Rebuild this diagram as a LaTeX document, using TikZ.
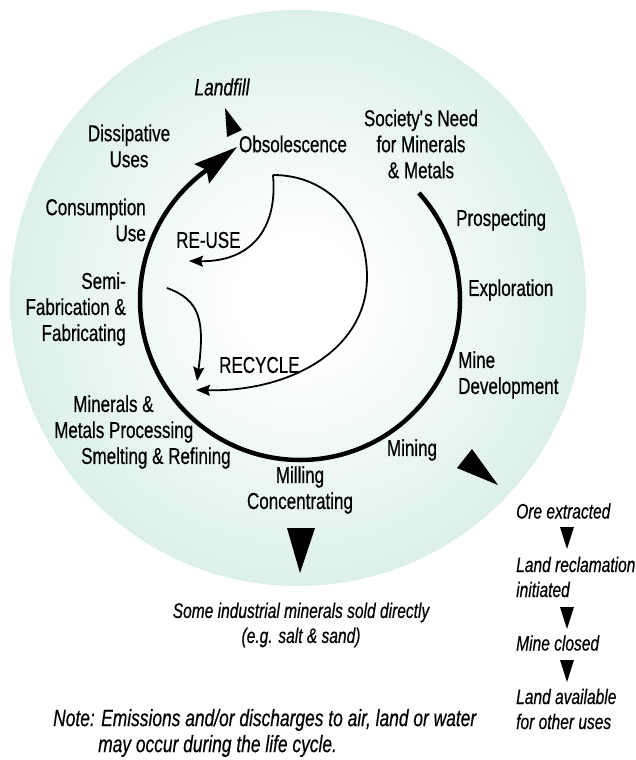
\documentclass[tikz,border=0pt]{standalone}
\usepackage{fontspec}
\setmainfont{Liberation Sans}[FakeStretch=0.74, FakeBold=0.5]
\usepackage{tikz}
\usetikzlibrary{arrows.meta,positioning,calc}

\definecolor{mint}{RGB}{176,222,205}
\pgfdeclareradialshading{mintdisc}{\pgfpoint{0bp}{0bp}}{color(0bp)=(white); color(5bp)=(white); color(50bp)=(mint)}

\begin{document}
\begin{tikzpicture}[x=1pt, y=-1pt, >={Stealth[length=14pt,width=11pt,inset=2pt]},
    lbl/.style={font=\fontsize{23}{26}\selectfont, inner sep=1pt},
    itl/.style={font=\fontsize{21}{25}\selectfont\itshape, inner sep=1pt},
    bigarc/.style={line width=4.5pt},
    thinarc/.style={line width=1.8pt}]
    \useasboundingbox (0,0) rectangle (636,760);

    % Background disc
    \shade[shading=mintdisc] (298,298) circle (288);

    % Stages round the cycle
    \node[lbl] (obs) at (293,144) {Obsolescence};
    \node[itl, font=\fontsize{23.5}{26}\selectfont\itshape] (landfill) at (222,87) {Landfill};
    \node[lbl, align=center] (need) at (421,144) {Society\textquotesingle s Need\\for Minerals\\\& Metals};
    \node[lbl, anchor=west] (prosp) at (455,220) {Prospecting};
    \node[lbl, anchor=west] (expl) at (467,290) {Exploration};
    \node[lbl, anchor=west, align=left] (dev) at (457,375) {Mine\\Development};
    \node[lbl] (mining) at (412,450) {Mining};
    \node[lbl, align=center] (mill) at (300,490) {Milling\\Concentrating};
    \node[lbl, anchor=west, align=left] (proc) at (53,432) {\hspace*{19pt}Minerals \&\\Metals Processing\\\hspace*{27pt}Smelting \& Refining};
    \node[lbl, anchor=east, align=right] (semi) at (127,309) {Semi-\\Fabrication \&\\Fabricating};
    \node[lbl, anchor=east, align=right] (cons) at (147,220) {Consumption\\Use};
    \node[lbl, align=center] (diss) at (129,146) {Dissipative\\Uses};
    \node[lbl, anchor=west] (reuse) at (175,240) {RE-USE};
    \node[lbl, anchor=west] (recycle) at (218,365) {RECYCLE};

    % Main cycle
    \coordinate (ring) at (300,300);
    \coordinate (obsin) at (237,147);
    \draw[bigarc, -{Stealth[length=44pt,width=24pt,inset=6pt]}]
        ($(ring)+(-42:160)$) arc[start angle=-42, end angle=232, radius=160] -- (obsin);

    % Re-use and recycle loops
    \coordinate (split) at (273,175);
    \coordinate (reusein) at (189,261);
    \coordinate (recycleout) at (167,288);
    \coordinate (recyclein) at (196,390);
    \coordinate (scrapin) at (197,381);
    \draw[thinarc, ->] (split) .. controls (278,230) and (250,262) .. (reusein);
    \draw[thinarc, ->] (split) .. controls (330,175) and (367,220) .. (367,277)
        .. controls (367,350) and (290,392) .. (recyclein);
    \draw[thinarc, ->] (recycleout) .. controls (200,300) and (205,320) .. (scrapin);

    % Outlets
    \fill (225,108) -- (242,130) -- (227,137) -- cycle;
    \fill (457,468) -- (472,449) -- (498,485) -- cycle;
    \fill (287,528) -- (315,528) -- (300,573) -- cycle;

    % After mining
    \node[itl, anchor=west] (ore) at (515,511) {Ore extracted};
    \node[itl, anchor=west, align=left] (recl) at (515,577) {Land reclamation\\initiated};
    \node[itl, anchor=west] (closed) at (515,643) {Mine closed};
    \node[itl, anchor=west, align=left] (avail) at (515,709) {Land available\\for other uses};
    \foreach \y in {527,607,660}
        \fill (560,\y) -- (574,\y) -- (567,\y+22) -- cycle;

    % Notes
    \node[itl, align=center] (direct) at (301,625) {Some industrial minerals sold directly\\(e.g. salt \& sand)};
    \node[itl, anchor=west, align=left, font=\fontsize{23.5}{26}\selectfont\itshape] (note) at (52,733) {Note: Emissions and/or discharges to air, land or water\\\hspace*{45pt}may occur during the life cycle.};
\end{tikzpicture}
\end{document}
